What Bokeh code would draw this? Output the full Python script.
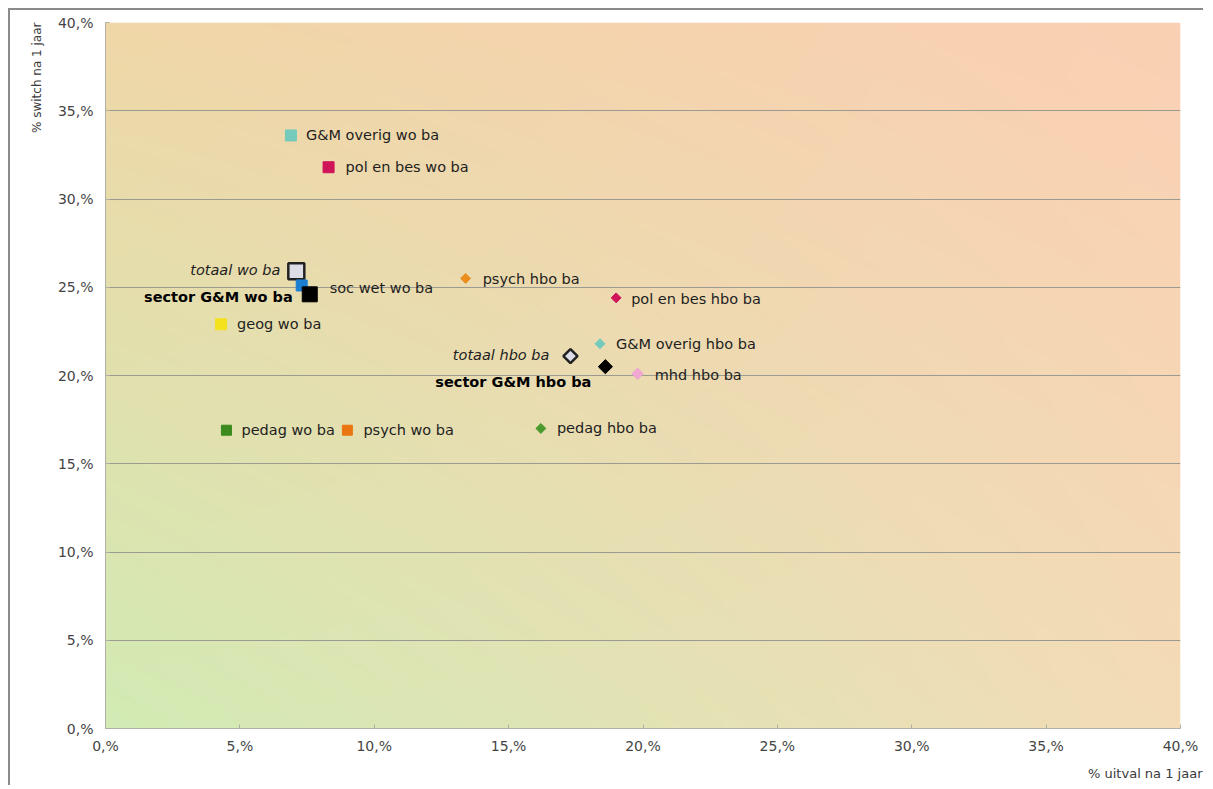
import numpy as np
from bokeh.plotting import figure
from bokeh.models import ColumnDataSource, FixedTicker, Title
from bokeh.core.properties import value
from bokeh.embed import file_html
from bokeh.resources import INLINE

# ---- data (percent) ----
wo_names = ["G&M overig wo ba", "pol en bes wo ba", "totaal wo ba", "soc wet wo ba",
            "sector G&M wo ba", "geog wo ba", "pedag wo ba", "psych wo ba"]
wo_uitval = [6.9, 8.3, 7.1, 7.3, 7.6, 4.3, 4.5, 9.0]
wo_switch = [33.6, 31.8, 25.9, 25.1, 24.6, 22.9, 16.9, 16.9]

hbo_names = ["psych hbo ba", "pol en bes hbo ba", "G&M overig hbo ba", "totaal hbo ba",
             "sector G&M hbo ba", "mhd hbo ba", "pedag hbo ba"]
hbo_uitval = [13.4, 19.0, 18.4, 17.3, 18.6, 19.8, 16.2]
hbo_switch = [25.5, 24.4, 21.8, 21.1, 20.5, 20.1, 17.0]

tick_values = [0, 5, 10, 15, 20, 25, 30, 35, 40]
tick_labels = ["0,%", "5,%", "10,%", "15,%", "20,%", "25,%", "30,%", "35,%", "40,%"]
x_title = "% uitval na 1 jaar"
y_title = "% switch na 1 jaar"

# ---- styles ----
wo_colors = ["#74cabb", "#d0145a", "#dcdde6", "#1c7fd2", "#000000", "#f3e21c", "#3a8a1e", "#ea7612"]
wo_lines = ["#74cabb", "#d0145a", "#222222", "#1c7fd2", "#000000", "#f3e21c", "#3a8a1e", "#ea7612"]
wo_lw = [1, 1, 2.5, 1, 1, 1, 1, 1]
wo_sizes = [11, 11, 16, 11, 15, 11, 10, 10]
wo_role = ["plain", "plain", "totaal", "plain", "sector", "plain", "plain", "plain"]
wo_xo = [15, 17, -16, 28, -17, 16, 15, 16]
wo_yo = [0, 0, -1, 3, 3, 0, 0, 0]

hbo_colors = ["#ea8e1e", "#d0145a", "#74cabb", "#dcdde6", "#000000", "#f0a8d2", "#4a9a2e"]
hbo_lines = ["#ea8e1e", "#d0145a", "#74cabb", "#222222", "#000000", "#f0a8d2", "#4a9a2e"]
hbo_lw = [1, 1, 1, 2.5, 1, 1, 1]
hbo_sizes = [7, 7, 7, 10, 10, 8, 7]
hbo_role = ["plain", "plain", "plain", "totaal", "sector", "plain", "plain"]
hbo_xo = [17, 15, 16, -21, -14, 17, 16]
hbo_yo = [1, 1, 0, -1, 15, 1, 0]

FONT = "DejaVu Sans"

p = figure(width=1195, height=777, x_range=(0, 40), y_range=(0, 40),
           output_backend="svg", toolbar_location=None,
           min_border_left=95, min_border_right=25, min_border_top=12, min_border_bottom=59)
p.styles = {"margin-left": "8px", "margin-top": "8px",
            "border-left": "2px solid #8a8a8a", "border-top": "2px solid #8a8a8a"}
p.background_fill_color = "white"
p.border_fill_color = "white"
p.outline_line_color = None

# background gradient
n = 200
u = np.linspace(0, 1, n)[None, :]
v = np.linspace(0, 1, n)[:, None]
BL = np.array([210, 235, 180]); TL = np.array([240, 215, 168])
TR = np.array([251, 208, 180]); BR = np.array([243, 220, 182])
img = np.zeros((n, n), dtype=np.uint32)
view = img.view(dtype=np.uint8).reshape((n, n, 4))
for c in range(3):
    ch = (BL[c] * (1 - u) * (1 - v) + BR[c] * u * (1 - v) + TL[c] * (1 - u) * v + TR[c] * u * v)
    view[:, :, c] = ch.astype(np.uint8)
view[:, :, 3] = 255
p.image_rgba(image=[img], x=0, y=0, dw=40, dh=40, level="image")

# grid
p.xgrid.grid_line_color = None
p.ygrid.grid_line_color = "#9a9a90"
p.ygrid.grid_line_width = 1
p.ygrid.level = "underlay"
p.ygrid.ticker = FixedTicker(ticks=tick_values[1:])

for ax in (p.xaxis[0], p.yaxis[0]):
    ax.ticker = FixedTicker(ticks=tick_values)
    ax.major_label_overrides = {v_: l for v_, l in zip(tick_values, tick_labels)}
    ax.axis_line_color = "#b0b0a8"
    ax.major_tick_line_color = "#b0b0a8"
    ax.major_tick_in = 4
    ax.major_tick_out = 0
    ax.minor_tick_line_color = None
    ax.major_label_text_font = FONT
    ax.major_label_text_font_size = "14px"
    ax.major_label_text_color = "#454545"
p.xaxis.major_label_standoff = 9
p.yaxis.major_label_standoff = 12

# axis titles
p.add_layout(Title(text=x_title, align="right", offset=-22, standoff=14,
                   text_font=FONT, text_font_size="13px", text_font_style="normal",
                   text_color="#3a3a3a"), "below")
p.add_layout(Title(text=y_title, align="right", offset=0, standoff=22,
                   text_font=FONT, text_font_size="12px", text_font_style="normal",
                   text_color="#3a3a3a"), "left")


def add_group(names, xs, ys, colors, lines, lws, sizes, roles, xo, yo, marker, angle):
    src = ColumnDataSource(dict(x=xs, y=ys, fill=colors, line=lines, lw=lws, size=sizes))
    p.scatter("x", "y", source=src, marker=marker, size="size", fill_color="fill",
              line_color="line", line_width="lw", angle=angle)
    for role, align, style in (("plain", "left", "normal"), ("totaal", "right", "italic"),
                               ("sector", "right", "bold")):
        idx = [i for i, r in enumerate(roles) if r == role]
        s = ColumnDataSource(dict(x=[xs[i] for i in idx], y=[ys[i] for i in idx],
                                  t=[names[i] for i in idx], xo=[xo[i] for i in idx],
                                  yo=[yo[i] for i in idx]))
        p.text("x", "y", text="t", source=s, x_offset="xo", y_offset="yo",
               text_align=align, text_baseline="middle", text_font=value(FONT),
               text_font_size="14.5px", text_font_style=style,
               text_color="#000000" if role == "sector" else "#1e1e1e")


add_group(wo_names, wo_uitval, wo_switch, wo_colors, wo_lines, wo_lw, wo_sizes, wo_role,
          wo_xo, wo_yo, "square", 0)
add_group(hbo_names, hbo_uitval, hbo_switch, hbo_colors, hbo_lines, hbo_lw, hbo_sizes, hbo_role,
          hbo_xo, hbo_yo, "square", np.pi / 4)

open("out.html", "w").write(file_html(p, INLINE))
